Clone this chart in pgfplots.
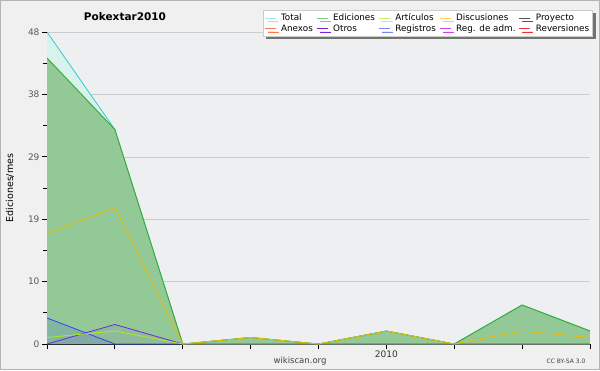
\documentclass[border=0pt]{standalone}
\usepackage{fontspec}
\setmainfont{DejaVu Sans}
\usepackage{pgfplots}
\pgfplotsset{compat=1.18}
\usetikzlibrary{shadows}
\definecolor{bgout}{HTML}{F0F0F0}
\definecolor{bgplot}{HTML}{EEEFF1}
\definecolor{frame}{HTML}{B4B4B4}
\definecolor{cTotal}{HTML}{33CCCC}
\definecolor{cTotalF}{HTML}{DAF2EC}
\definecolor{cTotalL}{HTML}{A8E4E0}
\definecolor{cEd}{HTML}{33AA33}
\definecolor{cEdF}{HTML}{92C997}
\definecolor{cEdL}{HTML}{77CC88}
\definecolor{cArt}{HTML}{AAEE11}
\definecolor{cArtL}{HTML}{CCEE66}
\definecolor{cDisc}{HTML}{EEBB00}
\definecolor{cDiscL}{HTML}{FFCC55}
\definecolor{cProy}{HTML}{555555}
\definecolor{cAnex}{HTML}{FF7744}
\definecolor{cOtros}{HTML}{7722DD}
\definecolor{cReg}{HTML}{3344EE}
\definecolor{cRegL}{HTML}{7788EE}
\definecolor{cAdm}{HTML}{CC44DD}
\definecolor{cRev}{HTML}{EE3333}
\begin{document}
\begin{tikzpicture}[x=1pt,y=1pt]
\useasboundingbox (0,0) rectangle (600,370);
\fill[bgout] (0,0) rectangle (600,370);
\draw[frame, line width=1.2pt] (0.6,0.6) rectangle (599.4,369.4);
\begin{axis}[
  at={(47pt,26pt)}, anchor=south west,
  scale only axis, width=543pt, height=312pt,
  xmin=0, xmax=8, ymin=0, ymax=48,
  axis background/.style={fill=bgplot},
  axis x line*=bottom, axis y line*=left,
  axis line style={-, black, line width=0.9pt},
  xtick={0,1,2,3,4,5,6,7,8},
  xticklabels={,,,,,2010,,,},
  ytick={0,9.6,19.2,28.8,38.4,48},
  yticklabels={0,10,19,29,38,48},
  minor y tick num=1,
  tick align=outside,
  major tick length=5pt, minor tick length=4pt,
  tick style={black, line width=0.8pt},
  ymajorgrids, grid style={gray!40, line width=0.6pt},
  /pgf/number format/assume math mode=true,
  yticklabel style={font=\fontsize{9}{10}\selectfont, text=black!65, xshift=1pt},
  xticklabel style={font=\fontsize{9}{10}\selectfont, text=black!80, yshift=2pt},
  ylabel={Ediciones/mes},
  ylabel style={at={(axis description cs:-0.068,0.5)}, anchor=center, font=\fontsize{9.5}{11}\selectfont},
  legend columns=5,
  legend cell align=left,
  legend style={at={(axis description cs:1.0055,1.0705)}, anchor=north east,
    fill=white, draw=gray!40, line width=0.5pt,
    drop shadow={shadow xshift=3pt, shadow yshift=-3pt, fill=black!55, opacity=1},
    font=\fontsize{8.8}{9.5}\selectfont, inner sep=1.5pt, row sep=-1.5pt,
    /tikz/every odd column/.append style={column sep=3pt},
    /tikz/every even column/.append style={column sep=1.5pt}},
  legend image code/.code={\draw[#1, line width=0.8pt] (0pt,0pt) -- (11pt,0pt);},
]
\addlegendimage{cTotalL}\addlegendentry{Total}
\addlegendimage{cEdL}\addlegendentry{Ediciones}
\addlegendimage{cArtL}\addlegendentry{Artículos}
\addlegendimage{cDiscL}\addlegendentry{Discusiones}
\addlegendimage{cProy}\addlegendentry{Proyecto}
\addlegendimage{cAnex}\addlegendentry{Anexos}
\addlegendimage{cOtros}\addlegendentry{Otros}
\addlegendimage{cRegL}\addlegendentry{Registros}
\addlegendimage{cAdm}\addlegendentry{Reg. de adm.}
\addlegendimage{cRev}\addlegendentry{Reversiones}
% Total
\addplot[forget plot, draw=none, fill=cTotalF] coordinates {(0,48)(1,33)(2,0)(3,1)(4,0)(5,2)(6,0)(7,6)(8,2)} \closedcycle;
\addplot[forget plot, cTotal, line width=0.8pt] coordinates {(0,48)(1,33)(2,0)(3,1)(4,0)(5,2)(6,0)(7,6)(8,2)};
% Ediciones
\addplot[forget plot, draw=none, fill=cEdF] coordinates {(0,44)(1,33)(2,0)(3,1)(4,0)(5,2)(6,0)(7,6)(8,2)} \closedcycle;
\addplot[forget plot, cEd, line width=0.9pt] coordinates {(0,44)(1,33)(2,0)(3,1)(4,0)(5,2)(6,0)(7,6)(8,2)};
% Registros
\addplot[forget plot, draw=none, fill=cReg, fill opacity=0.15] coordinates {(0,4)(1,0)(2,0)(3,0)(4,0)(5,0)(6,0)(7,0)(8,0)} \closedcycle;
\addplot[forget plot, cReg, line width=0.8pt] coordinates {(0,4)(1,0)(2,0)(3,0)(4,0)(5,0)(6,0)(7,0)(8,0)};
% Otros
\addplot[forget plot, draw=none, fill=cOtros, fill opacity=0.08] coordinates {(0,0)(1,3)(2,0)(3,0)(4,0)(5,0)(6,0)(7,0)(8,0)} \closedcycle;
\addplot[forget plot, cOtros, line width=0.8pt] coordinates {(0,0)(1,3)(2,0)(3,0)(4,0)(5,0)(6,0)(7,0)(8,0)};
% Artículos
\addplot[forget plot, cArt, line width=0.8pt] coordinates {(0,1)(1,2)(2,0)(3,0)(4,0)(5,0)(6,0)(7,0)(8,0)};
% Discusiones
\addplot[forget plot, cDisc, line width=0.8pt] coordinates {(0,17)(1,21)(2,0)(3,1)(4,0)(5,2)(6,0)(7,2)(8,1)};
\end{axis}
\node[font=\bfseries\fontsize{10.5}{12}\selectfont] at (125,353) {Pokextar2010};
\node[font=\fontsize{8.5}{10}\selectfont, text=black!75] at (300,9) {wikiscan.org};
\node[font=\fontsize{6}{7}\selectfont, text=black!75] at (566,9) {CC BY-SA 3.0};
\end{tikzpicture}
\end{document}
